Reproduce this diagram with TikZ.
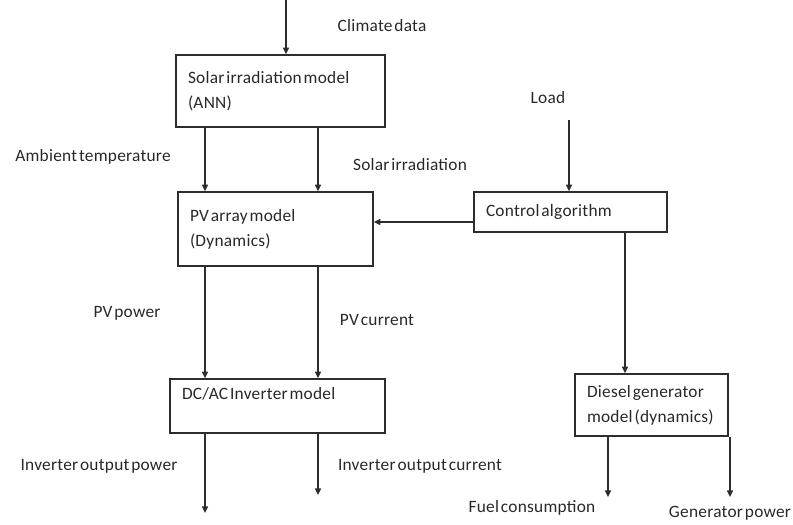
\documentclass[tikz,border=0pt]{standalone}
\usepackage{fontspec}
\setmainfont{Carlito}[WordSpace=0.45, LetterSpace=1.5]
\usetikzlibrary{positioning,arrows.meta,calc}
\definecolor{linegray}{RGB}{45,45,45}
\definecolor{textgray}{RGB}{40,40,40}

\begin{document}
\begin{tikzpicture}[
    x=0.75pt, y=-0.75pt,
    font=\fontsize{13}{18.75}\selectfont,
    model/.style={
      draw=linegray, line width=1.1pt,
      inner xsep=9pt, inner ysep=2pt,
      align=flush left, text=textgray, fill=white
    },
    sig/.style={text=textgray, inner sep=1pt},
    flow/.style={draw=linegray, line width=1.1pt,
      -{Triangle[length=5pt,width=4.5pt]}},
  ]
    \useasboundingbox (0,0) rectangle (793,525);

    %── Model blocks ────────────────────────────────────────────────────
    \node[model, text width=138.75pt, minimum height=54pt]   (solar) at (280.5,91)
      {Solar irradiation model\\(ANN)};
    \node[model, text width=128.25pt, minimum height=55.5pt] (pv)    at (275.5,229)
      {PV array model\\(Dynamics)};
    \node[model, text width=126.75pt, minimum height=30pt]   (ctrl)  at (570.5,212)
      {Control algorithm};
    \node[model, text width=143.25pt, minimum height=40.5pt] (inv)   at (277.5,406)
      {DC/AC Inverter model\\\mbox{}};
    \node[model, text width=96.75pt, minimum height=46.5pt]  (dsl)   at (651.5,405)
      {Diesel generator\\model (dynamics)};

    %── Signal labels ───────────────────────────────────────────────────
    \node[sig] (climate) at (382,26)  {Climate data};
    \node[sig] (ambient) at (93,157)  {Ambient temperature};
    \node[sig] (irrad)   at (410,165) {Solar irradiation};
    \node[sig] (load)    at (548,98)  {Load};
    \node[sig] (ppow)    at (127,313) {PV power};
    \node[sig] (pcur)    at (377,320) {PV current};
    \node[sig] (ipow)    at (99,466)  {Inverter output power};
    \node[sig] (icur)    at (420,466) {Inverter output current};
    \node[sig] (fuel)    at (532,508) {Fuel consumption};
    \node[sig] (genp)    at (730,513) {Generator power};

    %── Arrow columns and free ends ─────────────────────────────────────
    \coordinate (lx) at (205,0);
    \coordinate (rx) at (318,0);
    \coordinate (dx) at (625,0);
    \coordinate (climin) at (286,0);
    \coordinate (loadin) at (569,120);
    \coordinate (ipowout) at (205,513);
    \coordinate (icurout) at (318,495);
    \coordinate (fuelout) at (608,497);
    \coordinate (genout)  at (730,497);

    %── Connectors ──────────────────────────────────────────────────────
    \draw[flow] (climin) -- (climin |- solar.north);
    \draw[flow] (solar.south -| lx) -- (pv.north -| lx);
    \draw[flow] (solar.south -| rx) -- (pv.north -| rx);
    \draw[flow] (loadin) -- (loadin |- ctrl.north);
    \draw[flow] ([yshift=-7.5pt]ctrl.west) -- ([yshift=-7.5pt]ctrl.west -| pv.east);
    \draw[flow] (pv.south -| lx) -- (inv.north -| lx);
    \draw[flow] (pv.south -| rx) -- (inv.north -| rx);
    \draw[flow] (ctrl.south -| dx) -- (dsl.north -| dx);
    \draw[flow] (inv.south -| ipowout) -- (ipowout);
    \draw[flow] (inv.south -| icurout) -- (icurout);
    \draw[flow] (dsl.south -| fuelout) -- (fuelout);
    \draw[flow] (dsl.south -| genout) -- (genout);

  \end{tikzpicture}
\end{document}
